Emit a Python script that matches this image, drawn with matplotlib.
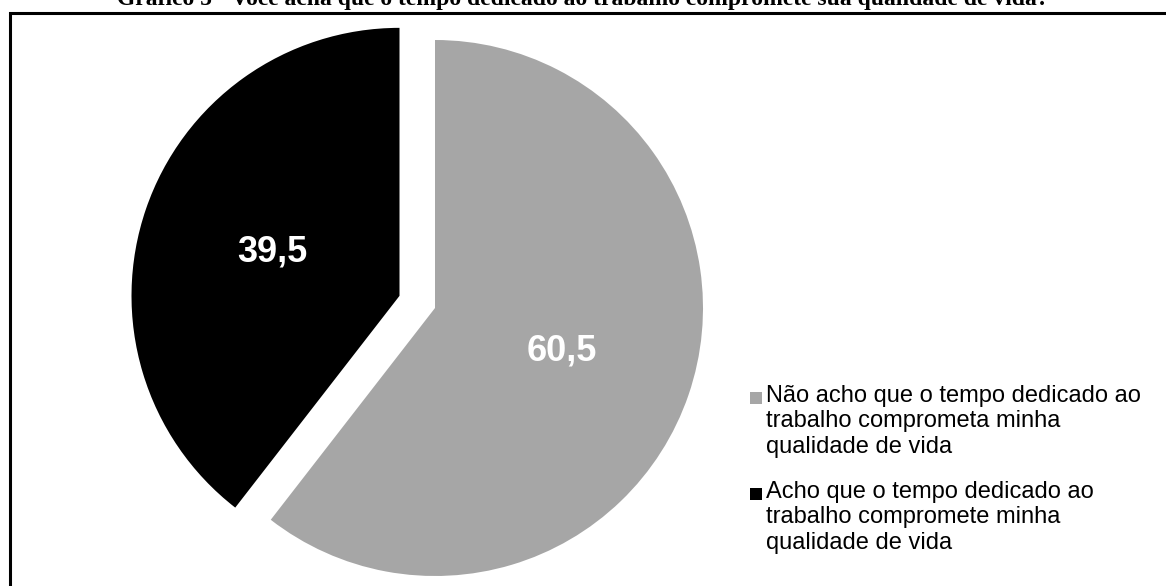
import matplotlib.pyplot as plt
from matplotlib.patches import Rectangle

# survey answers (%)
labels = ['Não acho que o tempo dedicado ao\ntrabalho comprometa minha\nqualidade de vida',
          'Acho que o tempo dedicado ao\ntrabalho compromete minha\nqualidade de vida']
values = [60.5, 39.5]
colors = ['#a6a6a6', '#000000']
title = 'Gráfico 5 - Você acha que o tempo dedicado ao trabalho compromete sua qualidade de vida?'

W, H = 1166, 586
fig = plt.figure(figsize=(W / 100, H / 100), dpi=100)
ax = fig.add_axes([0, 0, 1, 1])
ax.set_xlim(0, W)
ax.set_ylim(0, H)
ax.set_aspect('equal')
ax.axis('off')

# frame around the chart area (open on the right and bottom edges)
ax.add_patch(Rectangle((9.5, -10), W + 20, H - 13 + 10, fill=False,
                       edgecolor='black', linewidth=2.2))

R = 268
wedges, texts, autotexts = ax.pie(
    values, colors=colors, startangle=90, counterclock=False,
    explode=[0, 0.14 * R], center=(435, H - 308), radius=R,
    autopct=lambda p: f'{p:.1f}'.replace('.', ','), pctdistance=0.5,
    textprops=dict(color='white', fontsize=26, fontweight='bold',
                   family='Liberation Sans'),
    wedgeprops=dict(linewidth=0))
ax.set_xlim(0, W)
ax.set_ylim(0, H)

# legend drawn by hand so the marker sits on the first line
leg_y = [398, 494]
for y, lab, c in zip(leg_y, labels, colors):
    ax.add_patch(Rectangle((750, H - y - 6), 12, 12, color=c, linewidth=0))
    ax.text(766, H - y + 13, lab, fontsize=17, family='Liberation Sans',
            va='top', ha='left', linespacing=1.2)

fig.text(0.5, 1 - 5 / H, title, ha='center', va='baseline',
         fontsize=17, fontweight='bold', family='Liberation Serif')

fig.savefig('out.png', dpi=100)
